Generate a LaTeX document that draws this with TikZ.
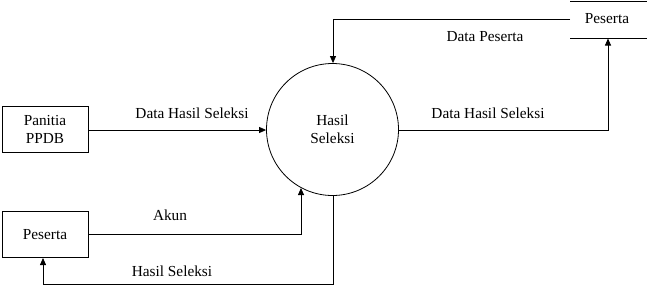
\documentclass[tikz,border=0pt]{standalone}
\usepackage{fontspec}
\setmainfont{Liberation Serif}
\usetikzlibrary{arrows.meta}
\begin{document}
\begin{tikzpicture}[x=1pt,y=-1pt,
  every node/.style={font=\fontsize{15.3}{17.5}\selectfont},
  entity/.style={draw,line width=1pt,minimum width=86pt,minimum height=46pt,align=center,inner sep=0pt},
  process/.style={draw,circle,line width=0.8pt,minimum size=132pt,align=center,inner sep=0pt},
  flow/.style={line width=0.8pt,-{Triangle[length=7pt,width=6pt]}},
  lbl/.style={inner sep=0pt}]
\useasboundingbox (0,0) rectangle (647,285);

% external entities
\node[entity] (panitia) at (45,129.5) {Panitia\\PPDB};
\node[entity] (peserta) at (45,234.5) {Peserta};

% process
\node[process] (proc) at (332.5,129.5) {Hasil\\Seleksi};

% data store
\coordinate (dsTL) at (570,1);
\coordinate (dsTR) at (647,1);
\coordinate (dsBL) at (570,38.5);
\coordinate (dsBR) at (647,38.5);
\draw[line width=1pt] (dsTL) -- (dsTR);
\draw[line width=0.8pt] (dsBL) -- (dsBR);
\node[lbl] (store) at (607,19) {Peserta};

% flows
\draw[flow] (panitia.east |- 0,130) -- (proc.west |- 0,130);
\node[lbl] at (192,113) {Data Hasil Seleksi};

\coordinate (akunBend) at (301,234);
\draw[flow] (peserta.east |- akunBend) -- (akunBend) -- (301,188);
\node[lbl] at (170,215) {Akun};

\coordinate (hsA) at (333,284);
\coordinate (hsB) at (43,284);
\draw[flow] (proc.south -| hsA) -- (hsA) -- (hsB) -- (peserta.south -| hsB);
\node[lbl] at (172,271) {Hasil Seleksi};

\coordinate (dpBend) at (333,19);
\draw[flow] (dsTL |- 0,19) -- (dpBend) -- (proc.north -| dpBend);
\node[lbl] at (485,37) {Data Peserta};

\coordinate (dhBend) at (608,130);
\draw[flow] (proc.east |- dhBend) -- (dhBend) -- (dsBL -| dhBend);
\node[lbl] at (488,113) {Data Hasil Seleksi};
\end{tikzpicture}
\end{document}
